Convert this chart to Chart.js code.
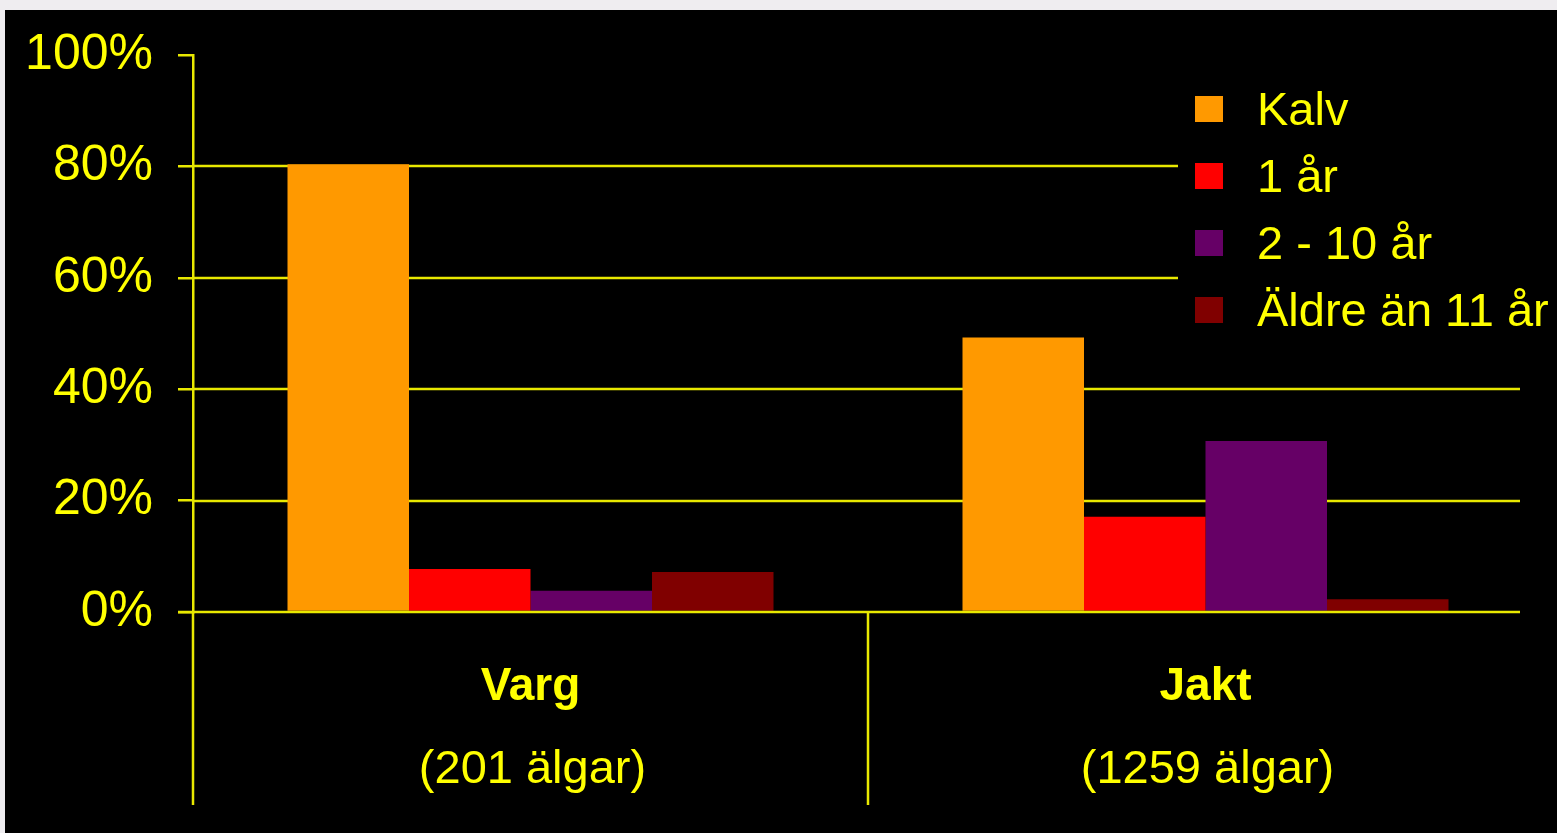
<!DOCTYPE html>
<html>
<head>
<meta charset="utf-8">
<script src="https://cdn.jsdelivr.net/npm/chart.js@4.4.1/dist/chart.umd.min.js"></script>
<style>
  html, body { margin: 0; padding: 0; background: #efedf0; overflow: hidden; }
  #wrap { position: absolute; left: 5px; top: 10px; width: 1552px; height: 823px; background: #000; }
</style>
</head>
<body>
<div id="wrap"><canvas id="chart" width="1552" height="823"></canvas></div>
<script>
// === Data ===
const categories = ["Varg", "Jakt"];
const sampleSizes = ["(201 älgar)", "(1259 älgar)"];
const seriesNames = ["Kalv", "1 år", "2 - 10 år", "Äldre än 11 år"];
const kalv = [80.4, 49.3];
const ettAr = [7.7, 17.1];
const tvaTillTio = [3.8, 30.7];
const aldre = [7.2, 2.3];
const yTicks = [0, 20, 40, 60, 80, 100];

const seriesColors = ["#ff9900", "#ff0000", "#660066", "#800000"];
const yellow = "#ffff00";
const lineYellow = "#e8e800";
const FONT = "'Liberation Sans', Arial, sans-serif";

// gridlines stop a bit short of the plot's right edge in the original
const GRID_RIGHT_INSET = 23;

const gridPlugin = {
  id: "gridLines",
  beforeDatasetsDraw(chart) {
    const { ctx, chartArea, scales } = chart;
    ctx.save();
    ctx.strokeStyle = lineYellow;
    ctx.lineWidth = 2.5;
    yTicks.forEach(v => {
      if (v === 0 || v === 100) return;
      const y = Math.round(scales.y.getPixelForValue(v));
      ctx.beginPath();
      ctx.moveTo(chartArea.left, y);
      ctx.lineTo(chartArea.right - GRID_RIGHT_INSET, y);
      ctx.stroke();
    });
    ctx.restore();
  },
  afterDatasetsDraw(chart) {
    const { ctx, chartArea, scales } = chart;
    const x = scales.x;
    ctx.save();
    ctx.strokeStyle = lineYellow;
    ctx.lineWidth = 2.5;

    // zero line across the plot
    const y0 = Math.round(scales.y.getPixelForValue(0));
    ctx.beginPath();
    ctx.moveTo(chartArea.left - 15, y0);
    ctx.lineTo(chartArea.right - GRID_RIGHT_INSET, y0);
    ctx.stroke();

    // category separators below the axis
    const sepBottom = chartArea.bottom + 193;
    const seps = [chartArea.left];
    for (let i = 0; i < categories.length - 1; i++) {
      seps.push(Math.round((x.getPixelForTick(i) + x.getPixelForTick(i + 1)) / 2));
    }
    seps.forEach(sx => {
      ctx.beginPath();
      ctx.moveTo(sx, chartArea.bottom);
      ctx.lineTo(sx, sepBottom);
      ctx.stroke();
    });

    // category labels (two lines, first bold)
    ctx.fillStyle = yellow;
    ctx.textAlign = "center";
    ctx.textBaseline = "alphabetic";
    categories.forEach((c, i) => {
      const cx = x.getPixelForTick(i);
      ctx.font = "bold 46px " + FONT;
      ctx.fillText(c, cx, chartArea.bottom + 88);
      ctx.font = "47px " + FONT;
      ctx.fillText(sampleSizes[i], cx + 2, chartArea.bottom + 171);
    });

    // legend box
    const lx = 1173, ly = 62;
    ctx.fillStyle = "#000";
    ctx.fillRect(lx, ly, chart.width - lx, 270);
    chart.data.datasets.forEach((ds, i) => {
      const cy = 99 + i * 67;
      ctx.fillStyle = ds.backgroundColor;
      ctx.fillRect(1190, cy - 13, 28, 26);
      ctx.fillStyle = yellow;
      ctx.font = "47px " + FONT;
      ctx.textAlign = "left";
      ctx.fillText(ds.label, 1252, cy + 16);
    });
    ctx.restore();
  }
};

const datasets = [kalv, ettAr, tvaTillTio, aldre].map((vals, i) => ({
  label: seriesNames[i],
  data: vals,
  backgroundColor: seriesColors[i],
  borderWidth: 0,
  categoryPercentage: 0.72,
  barPercentage: 1.0
}));

new Chart(document.getElementById("chart"), {
  type: "bar",
  data: { labels: categories, datasets },
  options: {
    responsive: false,
    animation: false,
    devicePixelRatio: 1,
    layout: { padding: { top: 45, right: 14, left: 0, bottom: 0 } },
    plugins: {
      legend: { display: false },
      tooltip: { enabled: false }
    },
    scales: {
      x: {
        grid: { display: false },
        border: { display: false },
        ticks: { display: false },
        afterFit: s => { s.height = 221; }
      },
      y: {
        min: 0,
        max: 100,
        afterBuildTicks: s => { s.ticks = yTicks.map(v => ({ value: v })); },
        ticks: {
          color: yellow,
          font: { family: FONT, size: 50 },
          padding: 25,
          callback: v => v + "%"
        },
        grid: {
          drawOnChartArea: false,
          drawTicks: true,
          tickLength: 15,
          color: lineYellow,
          lineWidth: 2.5
        },
        border: { display: true, color: lineYellow, width: 2.5 },
        afterFit: s => {
          s.width = 188;
          s.paddingTop = 0;
          s.paddingBottom = 0;
        }
      }
    }
  },
  plugins: [gridPlugin]
});
</script>
</body>
</html>
